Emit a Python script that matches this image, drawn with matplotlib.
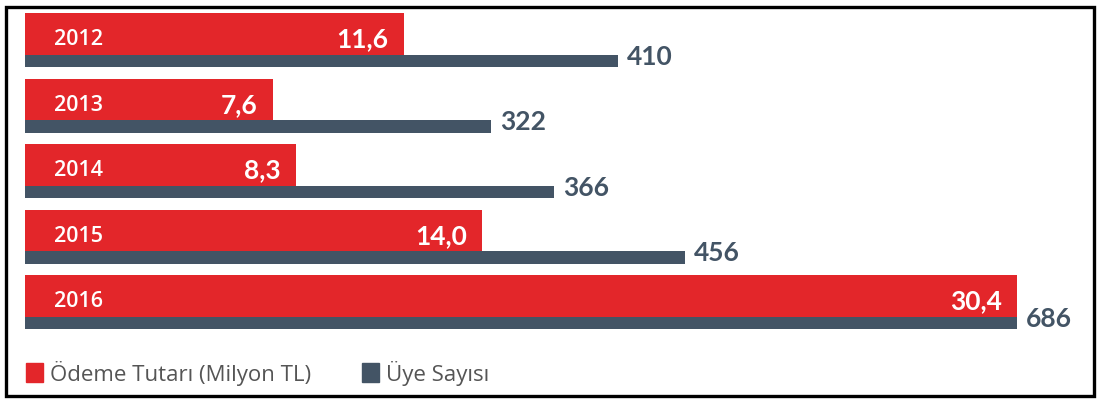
import matplotlib.pyplot as plt
from matplotlib.patches import Rectangle, Patch

# Veriler
yillar = ["2012", "2013", "2014", "2015", "2016"]
odeme = [11.6, 7.6, 8.3, 14.0, 30.4]      # Ödeme Tutarı (Milyon TL)
uye = [410, 322, 366, 456, 686]           # Üye Sayısı
odeme_etiket = ["11,6", "7,6", "8,3", "14,0", "30,4"]

kirmizi = "#E3262A"
koyu = "#435465"

fig = plt.figure(figsize=(11, 4.01), dpi=100)
ax = fig.add_axes([25 / 1100, 1 - 340.5 / 401, 1060 / 1100, 327.5 / 401])
ax2 = ax.twiny()

y = list(range(len(yillar)))
h_red = 0.64
h_dark = 0.185

ax.barh(y, odeme, height=h_red, align="edge", color=kirmizi, zorder=2)
ax2.barh([v + h_red for v in y], uye, height=h_dark, align="edge", color=koyu, zorder=2)

# iki seri ayrı ölçekte, en büyük değerler aynı noktada bitiyor
ax.set_xlim(0, max(odeme) / 0.936)
ax2.set_xlim(0, max(uye) / 0.936)
ax.set_ylim(len(yillar), 0)

for i, (yil, o, u, lbl) in enumerate(zip(yillar, odeme, uye, odeme_etiket)):
    ax.annotate(yil, (0, i + 0.41), xytext=(21, 0), textcoords="offset points",
                ha="left", va="center", color="white", fontsize=15.5,
                fontweight="semibold", family="Open Sans")
    ax.annotate(lbl, (o, i + 0.40), xytext=(-11, 0), textcoords="offset points",
                ha="right", va="center", color="white", fontsize=19,
                fontweight="bold", family="Lato")
    ax2.annotate(str(u), (u, i + 0.67), xytext=(6.5, 0), textcoords="offset points",
                 ha="left", va="center", color=koyu, fontsize=19,
                 fontweight="bold", family="Lato")

for a in (ax, ax2):
    a.axis("off")

# Lejant
handles = [Patch(color=kirmizi, label="Ödeme Tutarı (Milyon TL)"),
           Patch(color=koyu, label="Üye Sayısı")]
leg = fig.legend(handles=handles, loc="center left", bbox_to_anchor=(6 / 1100, 1 - 373 / 401),
                 ncol=2, frameon=False, handlelength=0.75, handleheight=0.95,
                 handletextpad=0.33, columnspacing=2.3,
                 prop={"family": "Open Sans", "size": 16})
for t in leg.get_texts():
    t.set_color("#555555")

# Çerçeve
fig.patches.append(Rectangle((5.5 / 1100, 5.5 / 401), 1088 / 1100, 389 / 401,
                             transform=fig.transFigure, fill=False,
                             edgecolor="black", linewidth=2.4))

fig.savefig("out.png", dpi=100)
